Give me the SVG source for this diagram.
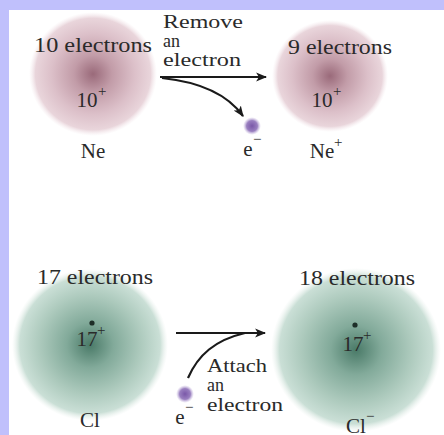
<svg xmlns="http://www.w3.org/2000/svg" width="444" height="435" viewBox="0 0 444 435">
  <defs>
    <radialGradient id="pink" cx="0.5" cy="0.5" r="0.5">
      <stop offset="0" stop-color="#9a6a7a"/>
      <stop offset="0.3" stop-color="#c29ca8"/>
      <stop offset="0.65" stop-color="#dcc0c9"/>
      <stop offset="0.9" stop-color="#e9d5db"/>
      <stop offset="1" stop-color="#f4e8ec" stop-opacity="0"/>
    </radialGradient>
    <radialGradient id="green" cx="0.5" cy="0.5" r="0.5">
      <stop offset="0" stop-color="#4a7a68"/>
      <stop offset="0.3" stop-color="#82aa9a"/>
      <stop offset="0.65" stop-color="#adcabd"/>
      <stop offset="0.9" stop-color="#cadfd6"/>
      <stop offset="1" stop-color="#e4eee9" stop-opacity="0"/>
    </radialGradient>
    <radialGradient id="violet" cx="0.5" cy="0.5" r="0.5">
      <stop offset="0" stop-color="#7a58a8"/>
      <stop offset="0.6" stop-color="#9a80c0"/>
      <stop offset="1" stop-color="#c8b8e0" stop-opacity="0"/>
    </radialGradient>
    <marker id="head" viewBox="0 0 10 10" refX="9" refY="5" markerWidth="5" markerHeight="5" orient="auto" markerUnits="strokeWidth">
      <path d="M0,1 L10,5 L0,9 L2.5,5 Z" fill="#1a1a1a"/>
    </marker>
    <style>
      text { font-family: "Liberation Serif", "DejaVu Serif", serif; fill: #2a2a2a; }
      .lbl { font-size: 21px; }
      .sm { font-size: 18px; }
      .sup { font-size: 15px; }
      .line { fill: none; stroke: #1a1a1a; stroke-width: 2.2; }
    </style>
  </defs>

  <!-- page frame -->
  <rect x="0" y="0" width="444" height="435" fill="#c0c0fc"/>
  <rect x="9" y="10" width="435" height="425" fill="#ffffff"/>

  <!-- neon atom -->
  <g id="ne">
    <ellipse cx="93" cy="74" rx="64" ry="62" fill="url(#pink)"/>
    <text class="lbl" x="93" y="52" text-anchor="middle" textLength="118" lengthAdjust="spacingAndGlyphs">10 electrons</text>
    <text class="lbl" x="87" y="107" text-anchor="middle">10</text>
    <text class="sup" x="98" y="96">+</text>
    <text class="lbl" x="93" y="158" text-anchor="middle">Ne</text>
  </g>

  <!-- neon ion -->
  <g id="ne-ion">
    <ellipse cx="330" cy="76" rx="58" ry="56" fill="url(#pink)"/>
    <text class="lbl" x="340" y="54" text-anchor="middle" textLength="104" lengthAdjust="spacingAndGlyphs">9 electrons</text>
    <text class="lbl" x="322" y="107" text-anchor="middle">10</text>
    <text class="sup" x="333" y="96">+</text>
    <text class="lbl" x="322" y="158" text-anchor="middle">Ne</text>
    <text class="sup" x="334" y="147">+</text>
  </g>

  <!-- removed electron -->
  <g id="electron-out">
    <circle cx="252" cy="126" r="9" fill="url(#violet)"/>
    <text class="lbl" x="248" y="156" text-anchor="middle">e</text>
    <text class="sup" x="253" y="144">−</text>
  </g>

  <!-- remove label -->
  <g id="remove-label">
    <text class="sm" x="163" y="28" textLength="80" lengthAdjust="spacingAndGlyphs">Remove</text>
    <text class="sm" x="163" y="47">an</text>
    <text class="sm" x="163" y="66" textLength="78" lengthAdjust="spacingAndGlyphs">electron</text>
  </g>

  <!-- chlorine atom -->
  <g id="cl">
    <ellipse cx="90" cy="345" rx="78" ry="76" fill="url(#green)"/>
    <text class="lbl" x="95" y="284" text-anchor="middle" textLength="116" lengthAdjust="spacingAndGlyphs">17 electrons</text>
    <circle cx="92" cy="323" r="2.6" fill="#1e2e28"/>
    <text class="lbl" x="87" y="346" text-anchor="middle">17</text>
    <text class="sup" x="97" y="335">+</text>
    <text class="lbl" x="90" y="427" text-anchor="middle">Cl</text>
  </g>

  <!-- chloride ion -->
  <g id="cl-ion">
    <ellipse cx="356" cy="350" rx="85" ry="82" fill="url(#green)"/>
    <text class="lbl" x="357" y="285" text-anchor="middle" textLength="116" lengthAdjust="spacingAndGlyphs">18 electrons</text>
    <circle cx="355" cy="325" r="2.6" fill="#1e2e28"/>
    <text class="lbl" x="353" y="351" text-anchor="middle">17</text>
    <text class="sup" x="363" y="340">+</text>
    <text class="lbl" x="356" y="433" text-anchor="middle">Cl</text>
    <text class="sup" x="366" y="421">−</text>
  </g>

  <!-- attached electron -->
  <g id="electron-in">
    <circle cx="185" cy="394" r="9" fill="url(#violet)"/>
    <text class="lbl" x="180" y="424" text-anchor="middle">e</text>
    <text class="sup" x="185" y="412">−</text>
  </g>

  <!-- attach label -->
  <g id="attach-label">
    <text class="sm" x="207" y="372" textLength="60" lengthAdjust="spacingAndGlyphs">Attach</text>
    <text class="sm" x="207" y="391">an</text>
    <text class="sm" x="207" y="411" textLength="76" lengthAdjust="spacingAndGlyphs">electron</text>
  </g>

  <!-- connectors -->
  <g id="connectors">
    <path class="line" d="M160,77 L266,77" marker-end="url(#head)"/>
    <path class="line" d="M162,78 C200,82 228,95 243,116" marker-end="url(#head)"/>
    <path class="line" d="M176,333 L265,333" marker-end="url(#head)"/>
    <path class="line" d="M188,378 C198,355 215,340 245,333"/>
  </g>
</svg>
